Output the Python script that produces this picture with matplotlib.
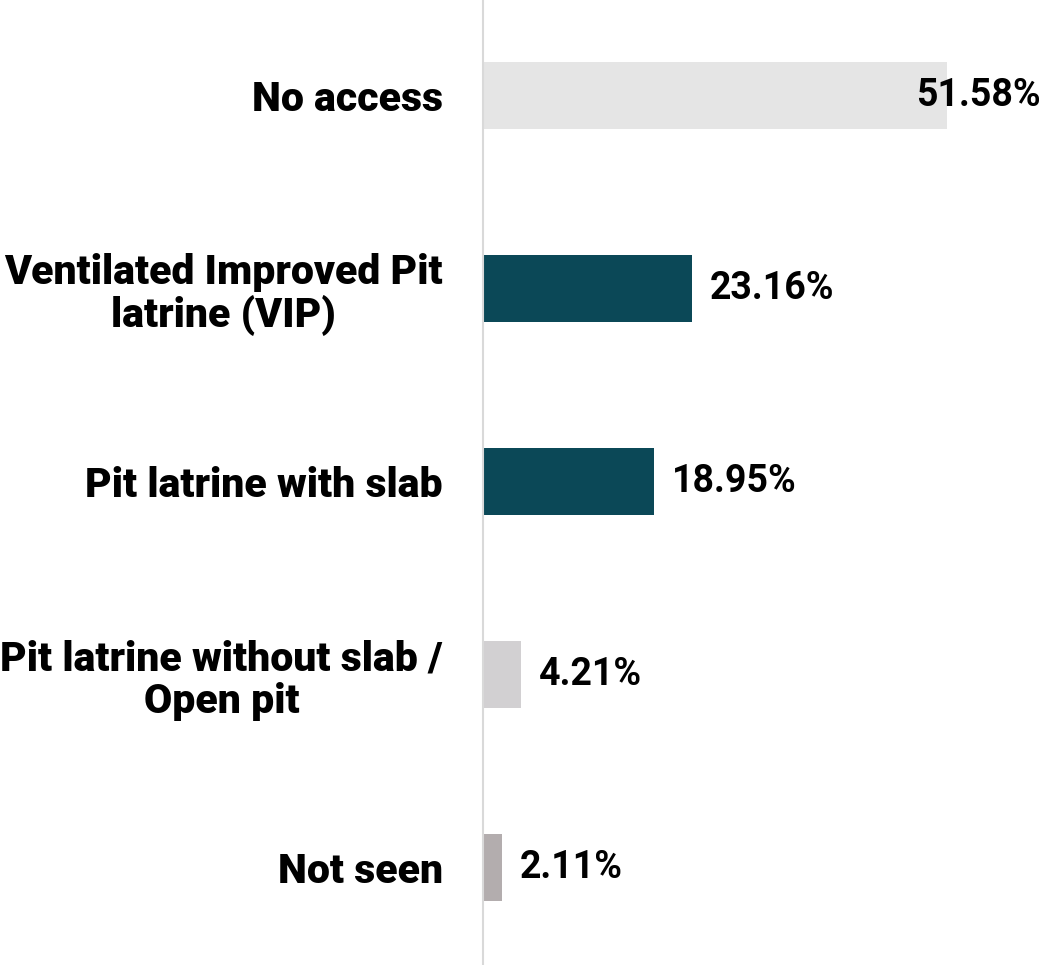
import matplotlib.pyplot as plt

# Acceso a saneamiento
categorias = ["No access", "Ventilated Improved Pit\nlatrine (VIP)", "Pit latrine with slab",
              "Pit latrine without slab /\nOpen pit", "Not seen"]
valores = [51.58, 23.16, 18.95, 4.21, 2.11]
colores = ["#e5e5e5", "#0b4857", "#0b4857", "#d2d0d2", "#b3adae"]

plt.rcParams['font.family'] = ['Roboto', 'DejaVu Sans']

fig = plt.figure(figsize=(10.43, 9.65), dpi=100)
ax = fig.add_axes([483 / 1043, 0, 1 - 483 / 1043, 1])

y = range(len(categorias))
ax.barh(y, valores, height=0.347, color=colores)

xmax = 62.2
ax.set_xlim(0, xmax)
ax.set_ylim(4.505, -0.495)

for yi, v in zip(y, valores):
    txt = f"{v:.2f}%"
    if v + 2 + 13.5 > xmax:
        ax.text(xmax - 0.3, yi, txt, ha="right", va="center", fontsize=27, fontweight="bold")
    else:
        ax.text(v + 2.0, yi, txt, ha="left", va="center", fontsize=27, fontweight="bold")

ax.set_yticks(list(y))
ax.set_yticklabels(categorias, fontsize=29.5, fontweight="heavy", multialignment="center",
                   linespacing=1.1)
ax.tick_params(axis="y", length=0, pad=29)
ax.set_xticks([])

for s in ["top", "right", "bottom"]:
    ax.spines[s].set_visible(False)
ax.spines["left"].set_color("#d9d9d9")
ax.spines["left"].set_linewidth(1.5)

fig.savefig("out.png", dpi=100)
